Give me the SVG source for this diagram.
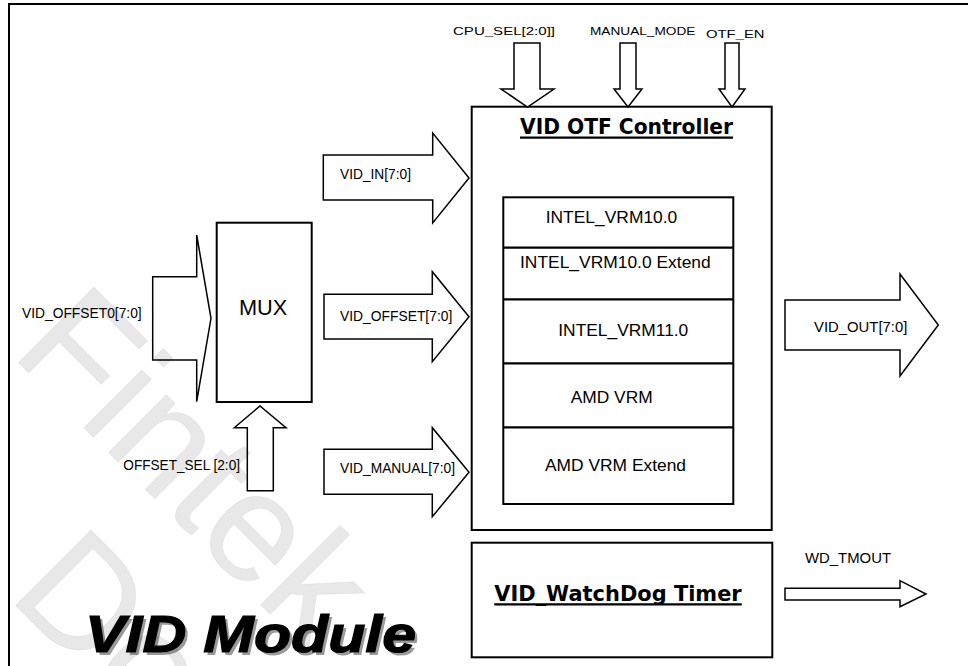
<svg xmlns="http://www.w3.org/2000/svg" width="968" height="666" viewBox="0 0 968 666">
<style>
.bx{fill:#fff;stroke:#000;stroke-width:2}
.ar{fill:#fff;stroke:#000;stroke-width:1.5;stroke-linejoin:miter}
.t{font-family:"Liberation Sans",Arial,sans-serif;fill:#000;font-size:13.8px}
.ts{font-family:"Liberation Sans",Arial,sans-serif;fill:#000;font-size:11.6px}
.tt{font-family:"Liberation Sans",Arial,sans-serif;fill:#000;font-size:17.4px}
.b{font-family:"DejaVu Sans",Verdana,sans-serif;font-weight:bold;font-size:20.5px;fill:#000}
.ul{stroke:#000;stroke-width:2.2}
.big{font-family:"Liberation Sans",Arial,sans-serif;font-weight:bold;font-style:italic;font-size:52px}
.wm{font-family:"Liberation Sans",Arial,sans-serif;font-size:155px;fill:#000;fill-opacity:0.09;stroke:#000;stroke-opacity:0.05;stroke-width:1}
</style>
<rect x="0" y="0" width="968" height="666" fill="#fff"/>
<path d="M9,667 V4 H969" fill="none" stroke="#000" stroke-width="2"/>

<g id="controller">
<rect class="bx" x="471.7" y="106.7" width="300" height="423.3"/>
<text class="b" x="520" y="134" textLength="213" lengthAdjust="spacingAndGlyphs">VID OTF Controller</text>
<line class="ul" x1="520" y1="137.7" x2="733" y2="137.7"/>
</g>

<g id="vrm-table">
<rect class="bx" x="503.3" y="197.3" width="230" height="306.7"/>
<line class="ul" x1="503.3" y1="247.7" x2="733.3" y2="247.7"/>
<line class="ul" x1="503.3" y1="299.3" x2="733.3" y2="299.3"/>
<line class="ul" x1="503.3" y1="363.3" x2="733.3" y2="363.3"/>
<line class="ul" x1="503.3" y1="427.3" x2="733.3" y2="427.3"/>
<text class="tt" x="545.7" y="223.3" textLength="131.6" lengthAdjust="spacingAndGlyphs">INTEL_VRM10.0</text>
<text class="tt" x="520" y="267.7" textLength="190.7" lengthAdjust="spacingAndGlyphs">INTEL_VRM10.0 Extend</text>
<text class="tt" x="558.3" y="336" textLength="130" lengthAdjust="spacingAndGlyphs">INTEL_VRM11.0</text>
<text class="tt" x="570.7" y="402.7" textLength="82" lengthAdjust="spacingAndGlyphs">AMD VRM</text>
<text class="tt" x="545" y="470.7" textLength="141" lengthAdjust="spacingAndGlyphs">AMD VRM Extend</text>
</g>

<g id="mux">
<rect class="bx" x="216.7" y="222.7" width="95" height="179.3"/>
<text x="239" y="315" font-family="Liberation Sans, Arial, sans-serif" font-size="22" textLength="48.3" lengthAdjust="spacingAndGlyphs">MUX</text>
</g>

<g id="watchdog">
<rect class="bx" x="471.7" y="542.7" width="300.6" height="114.6"/>
<text class="b" x="494.3" y="601" textLength="247.4" lengthAdjust="spacingAndGlyphs">VID_WatchDog Timer</text>
<line class="ul" x1="494.3" y1="604.3" x2="741.7" y2="604.3"/>
</g>

<g id="connectors">
<polygon class="ar" points="514,43 540,43 540,89 554,89 527.5,107 501,89 514,89"/>
<polygon class="ar" points="620,43 636,43 636,89 642,89 628,107 614,89 620,89"/>
<polygon class="ar" points="725,43 739,43 739,89 745,89 732,107 719,89 725,89"/>
<polygon class="ar" points="323.3,155 432.7,155 432.7,133 469,178 432.7,223 432.7,200 323.3,200"/>
<polygon class="ar" points="324,294.3 432.3,294.3 432.3,271.7 469,316.7 432.3,361.7 432.3,339 324,339"/>
<polygon class="ar" points="324,449.3 432.3,449.3 432.3,427.7 469,472.2 432.3,516.7 432.3,494.3 324,494.3"/>
<polygon class="ar" points="152.7,276.7 196.7,276.7 196.7,235 211,318.3 196.7,401.7 196.7,360 152.7,360"/>
<polygon class="ar" points="247.3,490.7 247.3,427.7 234.3,427.7 260,406 286,427.7 273.3,427.7 273.3,490.7"/>
<polygon class="ar" points="785,300 900,300 900,274 938.3,325 900,376 900,350 785,350"/>
<polygon class="ar" points="785,588.3 900,588.3 900,580.7 926,594 900,606.7 900,600 785,600"/>
<text class="ts" x="453" y="35" textLength="102" lengthAdjust="spacingAndGlyphs">CPU_SEL[2:0]]</text>
<text class="ts" x="590" y="35" textLength="105.4" lengthAdjust="spacingAndGlyphs">MANUAL_MODE</text>
<text class="ts" x="706" y="37.7" textLength="58.5" lengthAdjust="spacingAndGlyphs">OTF_EN</text>
<text class="t" x="340" y="179.3" textLength="71" lengthAdjust="spacingAndGlyphs">VID_IN[7:0]</text>
<text class="t" x="340" y="320.7" textLength="112.3" lengthAdjust="spacingAndGlyphs">VID_OFFSET[7:0]</text>
<text class="t" x="340" y="473.3" textLength="115" lengthAdjust="spacingAndGlyphs">VID_MANUAL[7:0]</text>
<text class="t" x="22" y="318.3" textLength="119.7" lengthAdjust="spacingAndGlyphs">VID_OFFSET0[7:0]</text>
<text class="t" x="123.3" y="470" textLength="116.7" lengthAdjust="spacingAndGlyphs">OFFSET_SEL [2:0]</text>
<text class="t" x="814" y="332.3" textLength="93.3" lengthAdjust="spacingAndGlyphs">VID_OUT[7:0]</text>
<text class="t" x="805" y="563.3" textLength="86" lengthAdjust="spacingAndGlyphs">WD_TMOUT</text>
</g>

<g id="title">
<text class="big" x="88" y="654.5" fill="#9a9a9a" textLength="331" lengthAdjust="spacingAndGlyphs">VID Module</text>
<text class="big" x="85" y="651.7" fill="#000" stroke="#000" stroke-width="1.2" textLength="331" lengthAdjust="spacingAndGlyphs">VID Module</text>
</g>

<g id="watermark">
<text class="wm" transform="translate(9.6,353.6) rotate(45)">Fintek</text>
<text class="wm" transform="translate(6.6,596.6) rotate(45)">Doc</text>
</g>
</svg>
